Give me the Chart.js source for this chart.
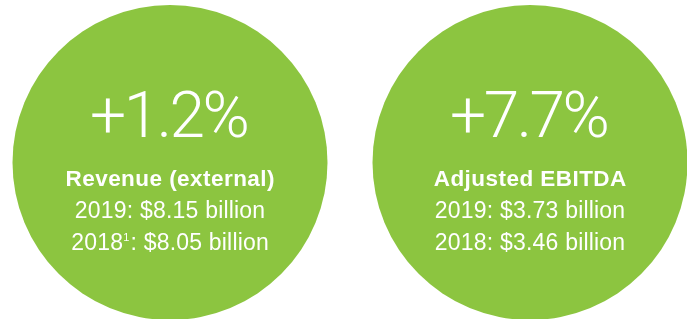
<!DOCTYPE html>
<html>
<head>
<meta charset="utf-8">
<script src="https://cdn.jsdelivr.net/npm/chart.js@4"></script>
<style>
html,body{margin:0;padding:0;background:#fff;}
#wrap{width:687px;height:319px;position:relative;}
</style>
</head>
<body>
<div id="wrap"><canvas id="c" width="687" height="319"></canvas></div>
<script>
const categories = ["Revenue (external)", "Adjusted EBITDA"];
const positions = [0, 1];
const changes = ["+1.2%", "+7.7%"];
const line2019 = ["2019: $8.15 billion", "2019: $3.73 billion"];
const line2018 = ["2018\u00B9: $8.05 billion", "2018: $3.46 billion"];

const green = "#8cc540";
const BODY = "23px 'Liberation Sans', Arial, sans-serif";
const SUP = "11px 'Liberation Sans', Arial, sans-serif";

function drawCentered(ctx, text, x, y, spacing) {
  ctx.letterSpacing = spacing + "px";
  const w = ctx.measureText(text).width - spacing;
  ctx.textAlign = "left";
  ctx.fillText(text, x - w / 2, y);
}

// draws text where "¹" is set as a small raised superscript
function drawWithSup(ctx, text, x, y, spacing) {
  const parts = text.split("\u00B9");
  ctx.textAlign = "left";
  ctx.letterSpacing = spacing + "px";
  const segs = [];
  parts.forEach((p, k) => {
    ctx.font = BODY;
    segs.push({ t: p, f: BODY, dy: 0, w: ctx.measureText(p).width });
    if (k < parts.length - 1) {
      ctx.font = SUP;
      segs.push({ t: "1", f: SUP, dy: -9, w: ctx.measureText("1").width + 1 });
    }
  });
  const total = segs.reduce((s, g) => s + g.w, 0) - spacing;
  let cx = x - total / 2;
  segs.forEach(g => {
    ctx.font = g.f;
    ctx.fillText(g.t, cx, y + g.dy);
    cx += g.w;
  });
}

const textPlugin = {
  id: "circleText",
  afterDatasetsDraw(chart) {
    const ctx = chart.ctx;
    const meta = chart.getDatasetMeta(0);
    ctx.save();
    ctx.fillStyle = "#ffffff";
    ctx.textBaseline = "alphabetic";
    meta.data.forEach((el, i) => {
      const x = el.x, y = el.y;
      ctx.font = "300 64px Roboto, 'Liberation Sans', sans-serif";
      drawCentered(ctx, changes[i], x, y - 26, -2.5);
      ctx.font = "bold 22.5px 'Liberation Sans', Arial, sans-serif";
      drawCentered(ctx, categories[i], x, y + 23, 0.45);
      ctx.font = BODY;
      drawCentered(ctx, line2019[i], x, y + 55, 0.2);
      drawWithSup(ctx, line2018[i], x, y + 87, 0.2);
    });
    ctx.restore();
  }
};

new Chart(document.getElementById("c"), {
  type: "scatter",
  data: {
    labels: categories,
    datasets: [{
      data: positions.map(p => ({ x: p, y: 0 })),
      backgroundColor: green,
      borderColor: green,
      borderWidth: 0,
      pointRadius: 157.5,
      pointHoverRadius: 157.5,
      clip: false
    }]
  },
  options: {
    responsive: false,
    animation: false,
    events: [],
    layout: { padding: 0, autoPadding: false },
    plugins: { legend: { display: false }, tooltip: { enabled: false } },
    scales: {
      x: { type: "linear", display: false, min: -170 / 360, max: -170 / 360 + 687 / 360 },
      y: { type: "linear", display: false, min: -1, max: 162.5 / 156.5 }
    }
  },
  plugins: [textPlugin]
});
</script>
</body>
</html>
